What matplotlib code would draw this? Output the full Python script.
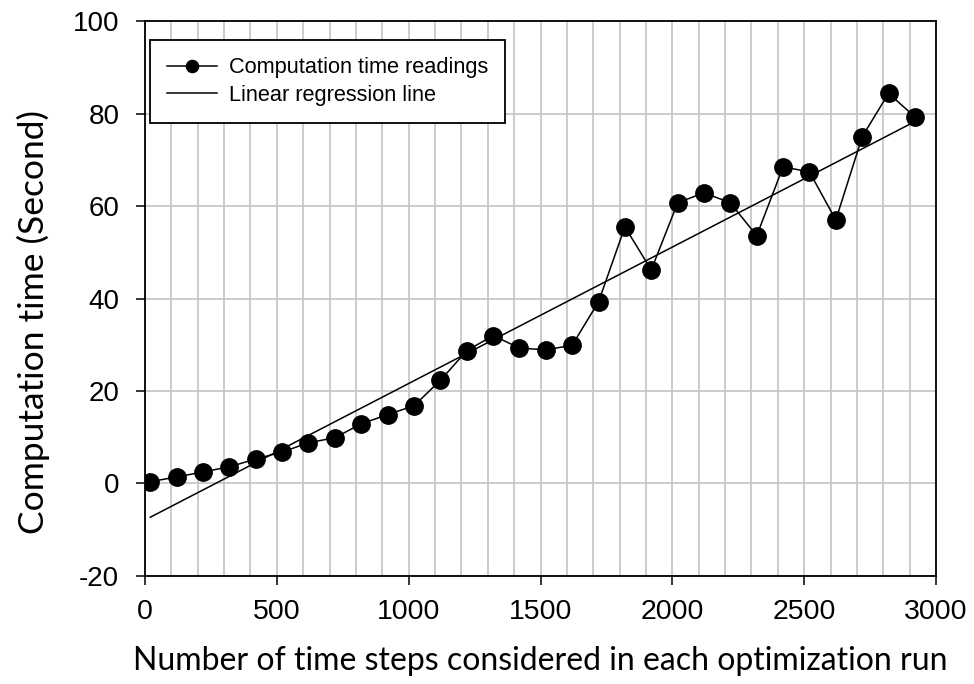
import numpy as np
import matplotlib
matplotlib.use("Agg")
import matplotlib.pyplot as plt

plt.rcParams['axes.unicode_minus'] = False

steps = [20, 120, 220, 320, 420, 520, 620, 720, 820, 920,
         1020, 1120, 1220, 1320, 1420, 1520, 1620, 1720, 1820, 1920,
         2020, 2120, 2220, 2320, 2420, 2520, 2620, 2720, 2820, 2920]
comp_time = [0.4, 1.4, 2.5, 3.6, 5.3, 6.8, 8.8, 9.9, 12.9, 14.9,
             16.8, 22.3, 28.7, 32.0, 29.3, 28.9, 29.9, 39.3, 55.5, 46.2,
             60.7, 62.9, 60.7, 53.6, 68.5, 67.4, 57.0, 75.0, 84.4, 79.3]
x_ticks = [0, 500, 1000, 1500, 2000, 2500, 3000]
y_ticks = [-20, 0, 20, 40, 60, 80, 100]

x = np.array(steps, dtype=float)
y = np.array(comp_time, dtype=float)
slope, intercept = np.polyfit(x, y, 1)
fit = slope * x + intercept

fig = plt.figure(figsize=(9.74, 6.84), dpi=100)
ax = fig.add_axes([0.1489, 0.158, 0.8121, 0.811])

ax.set_xlim(0, 3000)
ax.set_ylim(-20, 100)
ax.set_xticks(x_ticks)
ax.set_yticks(y_ticks)
ax.set_xticks(np.arange(100, 3000, 100), minor=True)
ax.tick_params(which='minor', length=0)
ax.grid(True, which='both', axis='x', color='#c4c4c4', linewidth=1.2, zorder=0)
ax.grid(True, which='major', axis='y', color='#c4c4c4', linewidth=1.2, zorder=0)
ax.set_axisbelow(True)

l1, = ax.plot(x, y, '-o', color='black', linewidth=1.1, markersize=12.5,
              label='Computation time readings', zorder=3)
l2, = ax.plot(x, fit, '-', color='black', linewidth=1.1,
              label='Linear regression line', zorder=2)

for s in ax.spines.values():
    s.set_linewidth(1.3)
    s.set_color('black')
ax.tick_params(which='major', direction='out', length=6.5, width=1.1,
               top=False, right=False)
ax.tick_params(axis='x', labelsize=20.5, pad=10)
ax.tick_params(axis='y', labelsize=20, pad=12)
for lab in ax.get_xticklabels() + ax.get_yticklabels():
    lab.set_fontfamily(['Liberation Sans', 'DejaVu Sans'])

ax.set_xlabel('Number of time steps considered in each optimization run',
              fontsize=23, family=['Lato', 'DejaVu Sans'])
ax.xaxis.label.set_va('baseline')
ax.xaxis.set_label_coords(0.5, -0.1694)
ax.set_ylabel('Computation time (Second)', fontsize=25.5,
              family=['Lato', 'DejaVu Sans'])
ax.yaxis.set_label_coords(-0.120, 0.4577)

leg = ax.legend(handles=[l1, l2], loc='upper left',
                bbox_to_anchor=(0.006, 0.966), fancybox=False, framealpha=1,
                edgecolor='black', prop={'family': 'Liberation Sans', 'size': 15.7},
                handlelength=2.3, borderpad=0.79, labelspacing=0.29,
                handletextpad=0.53, borderaxespad=0, markerscale=0.7)
leg.get_frame().set_linewidth(1.3)

fig.savefig('out.png', dpi=100)
